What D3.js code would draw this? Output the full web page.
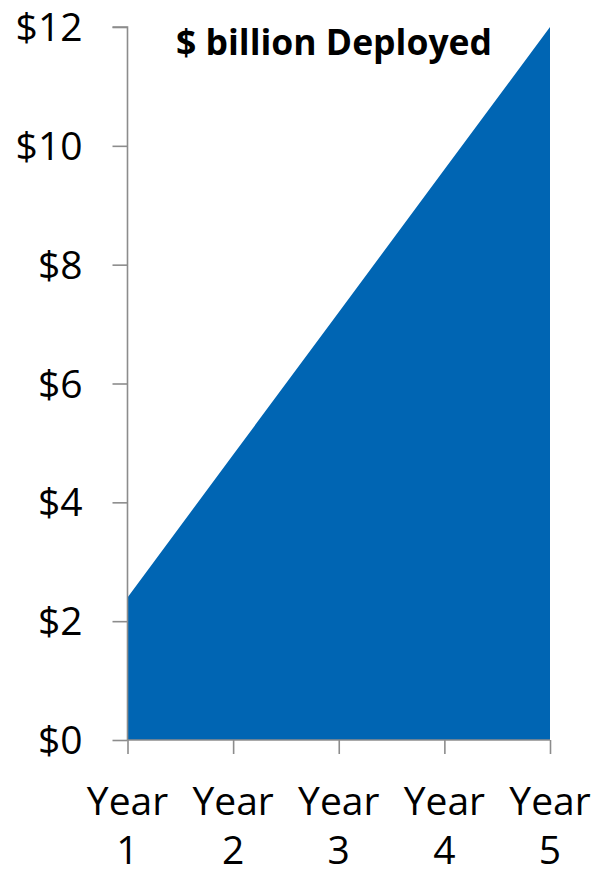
<!DOCTYPE html>
<html lang="en">
<head>
  <meta charset="UTF-8">
  <title>$ billion Deployed</title>
  <script src="https://d3js.org/d3.v7.min.js"></script>
  <style>
    body {
      margin: 0;
      background: #fff;
      font-family: 'Open Sans', 'Noto Sans', sans-serif;
    }
    .tick-label {
      font-family: 'Open Sans', 'Noto Sans', sans-serif;
      font-size: 39px;
      fill: #000;
    }
    .title {
      font-family: 'Open Sans', 'Noto Sans', sans-serif;
      font-size: 35.5px;
      font-weight: bold;
      fill: #000;
    }
  </style>
</head>
<body>
  <svg id="chart" width="593" height="875"></svg>

  <script>
    const years = ["Year 1", "Year 2", "Year 3", "Year 4", "Year 5"];
    const deployed = [2.4, 4.8, 7.2, 9.6, 12];
    const yTicks = [0, 2, 4, 6, 8, 10, 12];

    const svg = d3.select("#chart");
    const margin = {top: 27, right: 43, bottom: 135, left: 127.5};
    const width = +svg.attr("width") - margin.left - margin.right;
    const height = +svg.attr("height") - margin.top - margin.bottom;
    const g = svg.append("g").attr("transform", `translate(${margin.left},${margin.top})`);

    const x = d3.scalePoint()
                .domain(years)
                .range([0, width]);

    const y = d3.scaleLinear()
                .domain([0, 12])
                .range([height, 0]);

    const data = years.map((d, i) => ({year: d, value: deployed[i]}));

    const area = d3.area()
                   .x(d => x(d.year))
                   .y0(y(0))
                   .y1(d => y(d.value));

    g.append("path")
      .datum(data)
      .attr("fill", "#0065b3")
      .attr("d", area);

    const axisColor = "#8c8c8c";

    // y axis
    const yAxis = g.append("g")
      .call(d3.axisLeft(y).tickValues(yTicks).tickSize(15).tickPadding(30)
        .tickFormat(d => "$" + d))
      .attr("font-family", null)
      .attr("font-size", null);
    yAxis.select(".domain").attr("stroke", axisColor).attr("stroke-width", 1.6)
      .attr("d", `M-15,${y(12)}H0V${y(0)}`);
    yAxis.selectAll(".tick line").attr("stroke", axisColor).attr("stroke-width", 1.6);
    yAxis.selectAll(".tick text")
      .attr("class", "tick-label")
      .attr("dy", "0.35em");

    // x axis
    const xAxis = g.append("g")
      .attr("transform", `translate(0,${height})`)
      .call(d3.axisBottom(x).tickSize(14).tickFormat(""));
    xAxis.select(".domain").attr("stroke", axisColor).attr("stroke-width", 1.6)
      .attr("d", `M0,0H${width}`);
    xAxis.selectAll(".tick line").attr("stroke", axisColor).attr("stroke-width", 1.6);

    // two-line category labels
    const labels = g.append("g").selectAll("text")
      .data(years)
      .enter()
      .append("text")
      .attr("class", "tick-label")
      .attr("text-anchor", "middle")
      .attr("x", d => x(d));
    labels.append("tspan")
      .attr("x", d => x(d))
      .attr("y", height + 75)
      .text(d => d.split(" ")[0]);
    labels.append("tspan")
      .attr("x", d => x(d))
      .attr("y", height + 124)
      .text(d => d.split(" ")[1]);

    // title
    svg.append("text")
      .attr("class", "title")
      .attr("x", 176)
      .attr("y", 55)
      .text("$ billion Deployed");
  </script>
</body>
</html>
